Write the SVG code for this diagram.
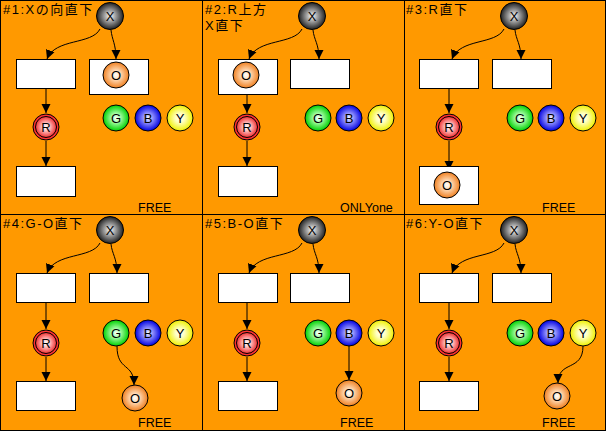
<svg xmlns="http://www.w3.org/2000/svg" width="606" height="431" viewBox="0 0 606 431">
<style>
.t{font-family:"Liberation Sans","Noto Sans CJK JP",sans-serif;font-size:13px;letter-spacing:1.5px;fill:#000}
.l{font-family:"Liberation Sans",sans-serif;font-size:13px;fill:#000;text-anchor:middle}
.f{font-family:"Liberation Sans",sans-serif;font-size:12.5px;fill:#000}
.box{fill:#fff;stroke:#000;stroke-width:1}
.c{stroke:#000;stroke-width:1}
.cn{fill:none;stroke:#000;stroke-width:1;marker-end:url(#ah)}
</style>
<defs>
<marker id="ah" viewBox="0 0 10 10" refX="10" refY="5" markerWidth="9" markerHeight="10" markerUnits="userSpaceOnUse" orient="auto"><path d="M0,0 L10,5 L0,10 z" fill="#000"/></marker>
<radialGradient id="gx" cx="0.5" cy="0.5" r="0.5"><stop offset="0" stop-color="#fff"/><stop offset="0.3" stop-color="#b8b8b8"/><stop offset="1" stop-color="#202020"/></radialGradient>
<radialGradient id="go" cx="0.5" cy="0.5" r="0.5"><stop offset="0" stop-color="#fff"/><stop offset="0.3" stop-color="#ffe0c0"/><stop offset="1" stop-color="#f08020"/></radialGradient>
<radialGradient id="gr" cx="0.5" cy="0.5" r="0.5"><stop offset="0" stop-color="#fff"/><stop offset="0.3" stop-color="#ffd0d0"/><stop offset="1" stop-color="#f03030"/></radialGradient>
<radialGradient id="gg" cx="0.5" cy="0.5" r="0.5"><stop offset="0" stop-color="#fff"/><stop offset="0.3" stop-color="#b0ffb0"/><stop offset="1" stop-color="#00d000"/></radialGradient>
<radialGradient id="gb" cx="0.5" cy="0.5" r="0.5"><stop offset="0" stop-color="#fff"/><stop offset="0.3" stop-color="#a0a0ff"/><stop offset="1" stop-color="#0000e0"/></radialGradient>
<radialGradient id="gy" cx="0.5" cy="0.5" r="0.5"><stop offset="0" stop-color="#fff"/><stop offset="0.35" stop-color="#ffffc0"/><stop offset="1" stop-color="#f0f000"/></radialGradient>
</defs>
<rect x="0" y="0" width="606" height="431" fill="#ff9900"/>
<g id="frame" fill="none" stroke="#000" stroke-width="1">
<rect x="0.5" y="0.5" width="605" height="430"/>
<line x1="202.5" y1="0" x2="202.5" y2="431"/>
<line x1="404.5" y1="0" x2="404.5" y2="431"/>
<line x1="0" y1="214.5" x2="606" y2="214.5"/>
</g>
<g id="labels">
<text class="t" x="3" y="14">#1:Xの向直下</text>
<text class="t" x="205" y="14">#2:R上方</text>
<text class="t" x="205" y="30">X直下</text>
<text class="t" x="406" y="14">#3:R直下</text>
<text class="t" x="3" y="228">#4:G-O直下</text>
<text class="t" x="205" y="228">#5:B-O直下</text>
<text class="t" x="406" y="228">#6:Y-O直下</text>
<text class="f" x="138" y="212">FREE</text>
<text class="f" x="340" y="212">ONLYone</text>
<text class="f" x="542" y="212">FREE</text>
<text class="f" x="138" y="427">FREE</text>
<text class="f" x="340" y="427">FREE</text>
<text class="f" x="542" y="427">FREE</text>
</g>
<g id="connectors">
<path class="cn" d="M100,29 C92,45 55,38 47,59"/>
<path class="cn" d="M111,30 C112,40 116,44 116,59"/>
<path class="cn" d="M46,88 L46,113"/>
<path class="cn" d="M46,141 L46,166"/>
<path class="cn" d="M302,29 C294,45 257,38 249,59"/>
<path class="cn" d="M313,30 C314,40 319,44 319,59"/>
<path class="cn" d="M247,94 L247,113"/>
<path class="cn" d="M247,141 L247,166"/>
<path class="cn" d="M504,29 C496,45 460,38 452,59"/>
<path class="cn" d="M515,30 C516,40 521,44 521,59"/>
<path class="cn" d="M449,88 L449,113"/>
<path class="cn" d="M449,141 L449,170"/>
<path class="cn" d="M100,243 C92,259 55,252 47,273"/>
<path class="cn" d="M111,244 C112,254 117,258 117,273"/>
<path class="cn" d="M46,303 L46,329"/>
<path class="cn" d="M46,357 L46,381"/>
<path class="cn" d="M117,346 C117,372 134,362 134,385"/>
<path class="cn" d="M302,243 C294,259 257,252 249,273"/>
<path class="cn" d="M313,244 C314,254 319,258 319,273"/>
<path class="cn" d="M247,303 L247,329"/>
<path class="cn" d="M247,357 L247,381"/>
<path class="cn" d="M349,346 L349,380"/>
<path class="cn" d="M504,243 C496,259 460,252 452,273"/>
<path class="cn" d="M515,244 C516,254 521,258 521,273"/>
<path class="cn" d="M449,303 L449,329"/>
<path class="cn" d="M449,357 L449,381"/>
<path class="cn" d="M583,346 C583,372 558,360 558,383"/>
</g>
<g id="p1-box1"><rect class="box" x="16.5" y="59.5" width="59" height="29"/></g>
<g id="p1-box2"><rect class="box" x="89.5" y="59.5" width="59" height="35"/></g>
<g id="p1-box3"><rect class="box" x="16.5" y="166.5" width="59" height="30"/></g>
<g id="p1-X"><circle class="c" cx="110" cy="16" r="13.5" fill="url(#gx)"/><text class="l" x="110" y="20.5">X</text></g>
<g id="p1-O"><circle class="c" cx="116" cy="75" r="13" fill="url(#go)"/><text class="l" x="116" y="79.5">O</text></g>
<g id="p1-R"><circle class="c" cx="46" cy="127" r="13" fill="#ff3030"/><circle class="c" cx="46" cy="127" r="10.5" fill="url(#gr)"/><text class="l" x="46" y="131.5">R</text></g>
<g id="p1-G"><circle class="c" cx="116" cy="118" r="13" fill="url(#gg)"/><text class="l" x="116" y="122.5">G</text></g>
<g id="p1-B"><circle class="c" cx="148" cy="118" r="13" fill="url(#gb)"/><text class="l" x="148" y="122.5">B</text></g>
<g id="p1-Y"><circle class="c" cx="180" cy="118" r="13" fill="url(#gy)"/><text class="l" x="180" y="122.5">Y</text></g>

<g id="p2-box1"><rect class="box" x="218.5" y="59.5" width="59" height="35"/></g>
<g id="p2-box2"><rect class="box" x="290.5" y="59.5" width="59" height="29"/></g>
<g id="p2-box3"><rect class="box" x="218.5" y="166.5" width="59" height="30"/></g>
<g id="p2-X"><circle class="c" cx="312" cy="16" r="13.5" fill="url(#gx)"/><text class="l" x="312" y="20.5">X</text></g>
<g id="p2-O"><circle class="c" cx="246" cy="75" r="13" fill="url(#go)"/><text class="l" x="246" y="79.5">O</text></g>
<g id="p2-R"><circle class="c" cx="247" cy="127" r="13" fill="#ff3030"/><circle class="c" cx="247" cy="127" r="10.5" fill="url(#gr)"/><text class="l" x="247" y="131.5">R</text></g>
<g id="p2-G"><circle class="c" cx="318" cy="118" r="13" fill="url(#gg)"/><text class="l" x="318" y="122.5">G</text></g>
<g id="p2-B"><circle class="c" cx="349" cy="118" r="13" fill="url(#gb)"/><text class="l" x="349" y="122.5">B</text></g>
<g id="p2-Y"><circle class="c" cx="381" cy="118" r="13" fill="url(#gy)"/><text class="l" x="381" y="122.5">Y</text></g>

<g id="p3-box1"><rect class="box" x="419.5" y="59.5" width="59" height="29"/></g>
<g id="p3-box2"><rect class="box" x="492.5" y="59.5" width="59" height="29"/></g>
<g id="p3-box3"><rect class="box" x="419.5" y="166.5" width="59" height="38"/></g>
<g id="p3-X"><circle class="c" cx="514" cy="16" r="13.5" fill="url(#gx)"/><text class="l" x="514" y="20.5">X</text></g>
<g id="p3-O"><circle class="c" cx="447" cy="185" r="13" fill="url(#go)"/><text class="l" x="447" y="189.5">O</text></g>
<g id="p3-R"><circle class="c" cx="449" cy="127" r="13" fill="#ff3030"/><circle class="c" cx="449" cy="127" r="10.5" fill="url(#gr)"/><text class="l" x="449" y="131.5">R</text></g>
<g id="p3-G"><circle class="c" cx="520" cy="118" r="13" fill="url(#gg)"/><text class="l" x="520" y="122.5">G</text></g>
<g id="p3-B"><circle class="c" cx="551" cy="118" r="13" fill="url(#gb)"/><text class="l" x="551" y="122.5">B</text></g>
<g id="p3-Y"><circle class="c" cx="583" cy="118" r="13" fill="url(#gy)"/><text class="l" x="583" y="122.5">Y</text></g>

<g id="p4-box1"><rect class="box" x="16.5" y="273.5" width="59" height="29"/></g>
<g id="p4-box2"><rect class="box" x="89.5" y="273.5" width="59" height="29"/></g>
<g id="p4-box3"><rect class="box" x="16.5" y="381.5" width="59" height="29"/></g>
<g id="p4-X"><circle class="c" cx="110" cy="230" r="13.5" fill="url(#gx)"/><text class="l" x="110" y="234.5">X</text></g>
<g id="p4-R"><circle class="c" cx="46" cy="343" r="13" fill="#ff3030"/><circle class="c" cx="46" cy="343" r="10.5" fill="url(#gr)"/><text class="l" x="46" y="347.5">R</text></g>
<g id="p4-G"><circle class="c" cx="116" cy="333" r="13" fill="url(#gg)"/><text class="l" x="116" y="337.5">G</text></g>
<g id="p4-B"><circle class="c" cx="148" cy="333" r="13" fill="url(#gb)"/><text class="l" x="148" y="337.5">B</text></g>
<g id="p4-Y"><circle class="c" cx="180" cy="333" r="13" fill="url(#gy)"/><text class="l" x="180" y="337.5">Y</text></g>
<g id="p4-O"><circle class="c" cx="135" cy="398" r="13" fill="url(#go)"/><text class="l" x="135" y="402.5">O</text></g>

<g id="p5-box1"><rect class="box" x="218.5" y="273.5" width="59" height="29"/></g>
<g id="p5-box2"><rect class="box" x="290.5" y="273.5" width="59" height="29"/></g>
<g id="p5-box3"><rect class="box" x="218.5" y="381.5" width="59" height="29"/></g>
<g id="p5-X"><circle class="c" cx="312" cy="230" r="13.5" fill="url(#gx)"/><text class="l" x="312" y="234.5">X</text></g>
<g id="p5-R"><circle class="c" cx="247" cy="343" r="13" fill="#ff3030"/><circle class="c" cx="247" cy="343" r="10.5" fill="url(#gr)"/><text class="l" x="247" y="347.5">R</text></g>
<g id="p5-G"><circle class="c" cx="318" cy="333" r="13" fill="url(#gg)"/><text class="l" x="318" y="337.5">G</text></g>
<g id="p5-B"><circle class="c" cx="349" cy="333" r="13" fill="url(#gb)"/><text class="l" x="349" y="337.5">B</text></g>
<g id="p5-Y"><circle class="c" cx="381" cy="333" r="13" fill="url(#gy)"/><text class="l" x="381" y="337.5">Y</text></g>
<g id="p5-O"><circle class="c" cx="349" cy="393" r="13" fill="url(#go)"/><text class="l" x="349" y="397.5">O</text></g>

<g id="p6-box1"><rect class="box" x="419.5" y="273.5" width="59" height="29"/></g>
<g id="p6-box2"><rect class="box" x="492.5" y="273.5" width="59" height="29"/></g>
<g id="p6-box3"><rect class="box" x="419.5" y="381.5" width="59" height="29"/></g>
<g id="p6-X"><circle class="c" cx="514" cy="230" r="13.5" fill="url(#gx)"/><text class="l" x="514" y="234.5">X</text></g>
<g id="p6-R"><circle class="c" cx="449" cy="343" r="13" fill="#ff3030"/><circle class="c" cx="449" cy="343" r="10.5" fill="url(#gr)"/><text class="l" x="449" y="347.5">R</text></g>
<g id="p6-G"><circle class="c" cx="520" cy="333" r="13" fill="url(#gg)"/><text class="l" x="520" y="337.5">G</text></g>
<g id="p6-B"><circle class="c" cx="551" cy="333" r="13" fill="url(#gb)"/><text class="l" x="551" y="337.5">B</text></g>
<g id="p6-Y"><circle class="c" cx="583" cy="333" r="13" fill="url(#gy)"/><text class="l" x="583" y="337.5">Y</text></g>
<g id="p6-O"><circle class="c" cx="557" cy="396" r="13" fill="url(#go)"/><text class="l" x="557" y="400.5">O</text></g>
</svg>
